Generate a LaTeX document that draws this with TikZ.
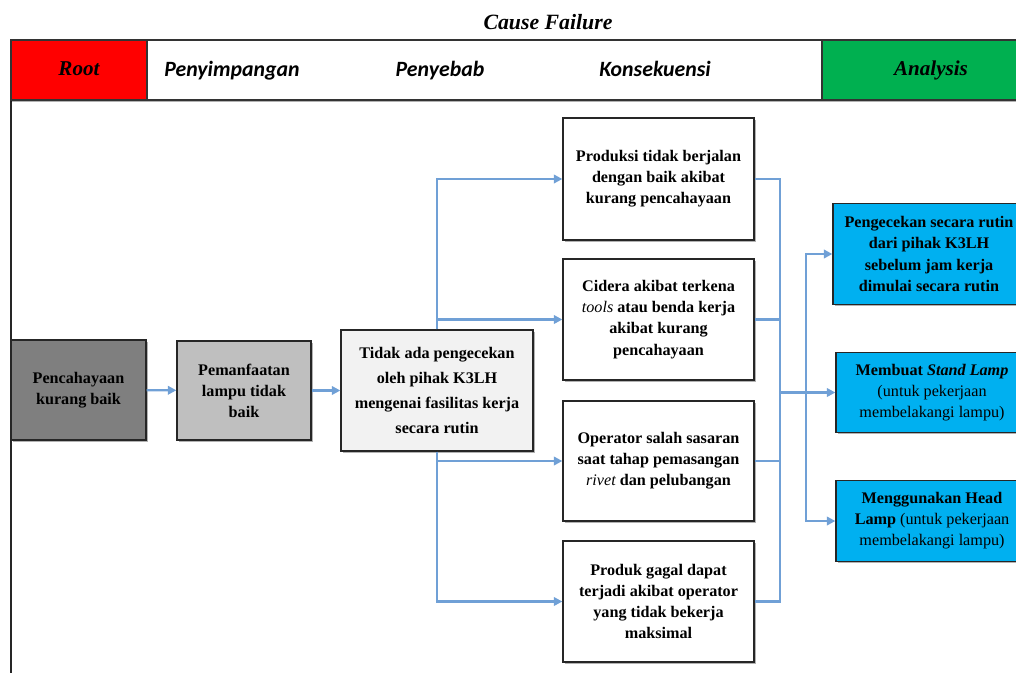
\documentclass[tikz,border=0pt]{standalone}
\usepackage{fontspec}
\setmainfont{Liberation Serif}
\newfontfamily\headfont{Carlito}
\usetikzlibrary{arrows.meta, shadows}

\definecolor{rootred}{HTML}{FF0000}
\definecolor{anagreen}{HTML}{00B050}
\definecolor{actblue}{HTML}{00B0F0}
\definecolor{grayA}{HTML}{7F7F7F}
\definecolor{grayB}{HTML}{BFBFBF}
\definecolor{grayC}{HTML}{F2F2F2}
\definecolor{linkblue}{RGB}{112,160,214}

\tikzset{
  hcell/.style={draw=black!80, line width=1pt, minimum height=1.5cm, inner sep=0pt,
    text height=2.3ex, text depth=0.45ex,
    font=\fontsize{15}{18}\selectfont\bfseries\itshape},
  hlabel/.style={text height=1.6ex, text depth=0.45ex,
    font=\headfont\fontsize{15.5}{18}\selectfont\bfseries\itshape},
  box/.style={draw=black!85, line width=0.9pt, align=center, inner sep=2pt,
    font=\fontsize{11.5}{15}\selectfont\bfseries,
    drop shadow={shadow xshift=1.2pt, shadow yshift=-1.2pt, opacity=0.3, fill=black}},
  conn/.style={draw=linkblue, line width=1.5pt, -{Triangle[length=6pt, width=6pt]}},
  link/.style={draw=linkblue, line width=1.5pt}
}

\begin{document}
\begin{tikzpicture}[x=0.025cm, y=-0.025cm]
    \useasboundingbox (0,0) rectangle (1016,672);
    % title
    \node[font=\fontsize{15.5}{18}\selectfont\bfseries\itshape] (title) at (548,22) {Cause Failure};
    % frame
    \draw[line width=1.4pt, black!85] (11,40) rectangle (1040,720);
    % header
    \draw[line width=1pt, black!80, fill=white,
      drop shadow={shadow xshift=0pt, shadow yshift=-1.5pt, opacity=0.3, fill=black}]
      (11,40) rectangle (1040,100);
    \node[hcell, fill=rootred, minimum width=3.4cm] (root) at (79,70) {Root};
    \node[hcell, fill=anagreen, minimum width=5.45cm] (analysis) at (931,70) {Analysis};
    \node[hlabel] (penyimpangan) at (232,73) {Penyimpangan};
    \node[hlabel] (penyebab) at (440,73) {Penyebab};
    \node[hlabel] (konsekuensi) at (655,73) {Konsekuensi};
    % root, penyimpangan, penyebab
    \node[box, fill=grayA, minimum width=3.375cm, minimum height=2.5cm] (akar) at (78.5,390)
      {Pencahayaan\\kurang baik};
    \node[box, fill=grayB, minimum width=3.35cm, minimum height=2.475cm] (simpang) at (244,390.5)
      {Pemanfaatan\\lampu tidak\\baik};
    \node[box, fill=grayC, minimum width=4.8cm, minimum height=3.025cm,
      font=\fontsize{11.5}{18}\selectfont\bfseries] (sebab) at (437,390.5)
      {Tidak ada pengecekan\\oleh pihak K3LH\\mengenai fasilitas kerja\\secara rutin};
    % konsekuensi
    \node[box, fill=white, minimum width=4.775cm, minimum height=3.05cm] (kons1) at (658.5,179)
      {Produksi tidak berjalan\\dengan baik akibat\\kurang pencahayaan};
    \node[box, fill=white, minimum width=4.775cm, minimum height=3.025cm] (kons2) at (658.5,319.5)
      {Cidera akibat terkena\\{\mdseries\itshape tools} atau benda kerja\\akibat kurang\\pencahayaan};
    \node[box, fill=white, minimum width=4.775cm, minimum height=3cm] (kons3) at (658.5,461)
      {Operator salah sasaran\\saat tahap pemasangan\\{\mdseries\itshape rivet} dan pelubangan};
    \node[box, fill=white, minimum width=4.775cm, minimum height=3.025cm] (kons4) at (658.5,601.5)
      {Produk gagal dapat\\terjadi akibat operator\\yang tidak bekerja\\maksimal};
    % analysis
    \node[box, fill=actblue, minimum width=4.8cm, minimum height=2.525cm] (anal1) at (929,254)
      {Pengecekan secara rutin\\dari pihak K3LH\\sebelum jam kerja\\dimulai secara rutin};
    \node[box, fill=actblue, minimum width=4.8cm, minimum height=2cm] (anal2) at (932,392.5)
      {Membuat {\itshape Stand Lamp}\\{\mdseries (untuk pekerjaan}\\{\mdseries membelakangi lampu)}};
    \node[box, fill=actblue, minimum width=4.8cm, minimum height=2.025cm] (anal3) at (932,521)
      {Menggunakan Head\\Lamp {\mdseries (untuk pekerjaan}\\{\mdseries membelakangi lampu)}};
    % connectors
    \coordinate (hub) at (780,392.5);
    \coordinate (split) at (806,392.5);
    \draw[conn] (akar) -- (simpang);
    \draw[conn] (simpang) -- (sebab);
    \draw[conn] (sebab.north) |- (kons1.west);
    \draw[conn] (sebab.north) |- (kons2.west);
    \draw[conn] (sebab.south) |- (kons3.west);
    \draw[conn] (sebab.south) |- (kons4.west);
    \draw[link] (kons1.east) -| (hub);
    \draw[link] (kons2.east) -| (hub);
    \draw[link] (kons3.east) -| (hub);
    \draw[link] (kons4.east) -| (hub);
    \draw[conn] (hub) -- (anal2.west);
    \draw[conn] (split) |- (anal1.west);
    \draw[conn] (split) |- (anal3.west);
\end{tikzpicture}
\end{document}
